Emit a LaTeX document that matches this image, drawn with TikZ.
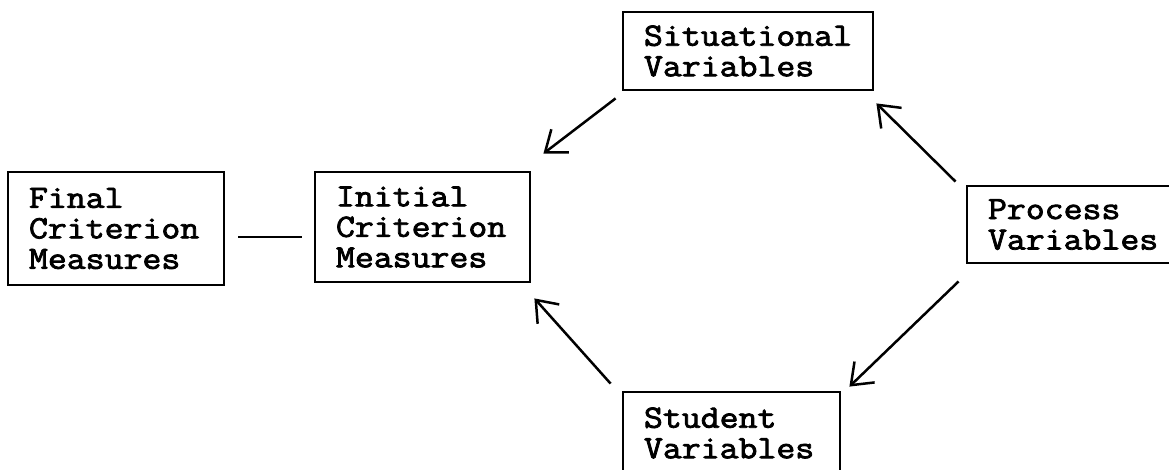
\documentclass[tikz,border=0pt]{standalone}
\usepackage{fontspec}
\usetikzlibrary{arrows.meta}
% a heavier, slightly wider typewriter face
\newfontfamily\typewriter{Latin Modern Mono}[FakeBold=2.5,FakeStretch=1.13]
\hyphenpenalty=10000
\begin{document}
\begin{tikzpicture}[x=1pt,y=-1pt,
  box/.style={draw, line width=2.8pt, rectangle, align=left,
    inner xsep=21pt, inner ysep=0pt,
    font=\typewriter\fontsize{32.5}{30.5}\selectfont},
  arr/.style={line width=2.5pt,
    -{Straight Barb[length=19pt,width=29pt]}},
  link/.style={line width=2.5pt}]
\useasboundingbox (0,0) rectangle (1169,470);
\clip (0,0) rectangle (1169,470);

% boxes
\node[box, text width=174pt, minimum height=113pt] (final) at (116,228.5)
  {Final\\Criterion\\Measures};
\node[box, text width=173pt, minimum height=110pt] (init) at (422.5,227)
  {Initial\\Criterion\\Measures};
\node[box, text width=208pt, minimum height=78pt] (sit) at (748,51)
  {Situational\\Variables};
\node[box, text width=166pt, minimum height=77pt] (proc) at (1071,224.5)
  {Process\\Variables};
\node[box, text width=175pt, minimum height=82pt] (stud) at (731.5,433)
  {Student\\Variables};

% connectors
\draw[link] ([shift={(13,8.5)}]final.east) -- ([shift={(-12,10)}]init.west);
\draw[arr] ([shift={(-6,7)}]sit.south west) -- ([shift={(12,-17)}]init.north east);
\draw[arr] ([shift={(-10,-3)}]proc.north west) -- ([shift={(2,12)}]sit.south east);
\draw[arr] ([shift={(-7,17)}]proc.south west) -- ([shift={(8,-4)}]stud.north east);
\draw[arr] ([shift={(-11,-7)}]stud.north west) -- ([shift={(3,15)}]init.south east);
\end{tikzpicture}
\end{document}
